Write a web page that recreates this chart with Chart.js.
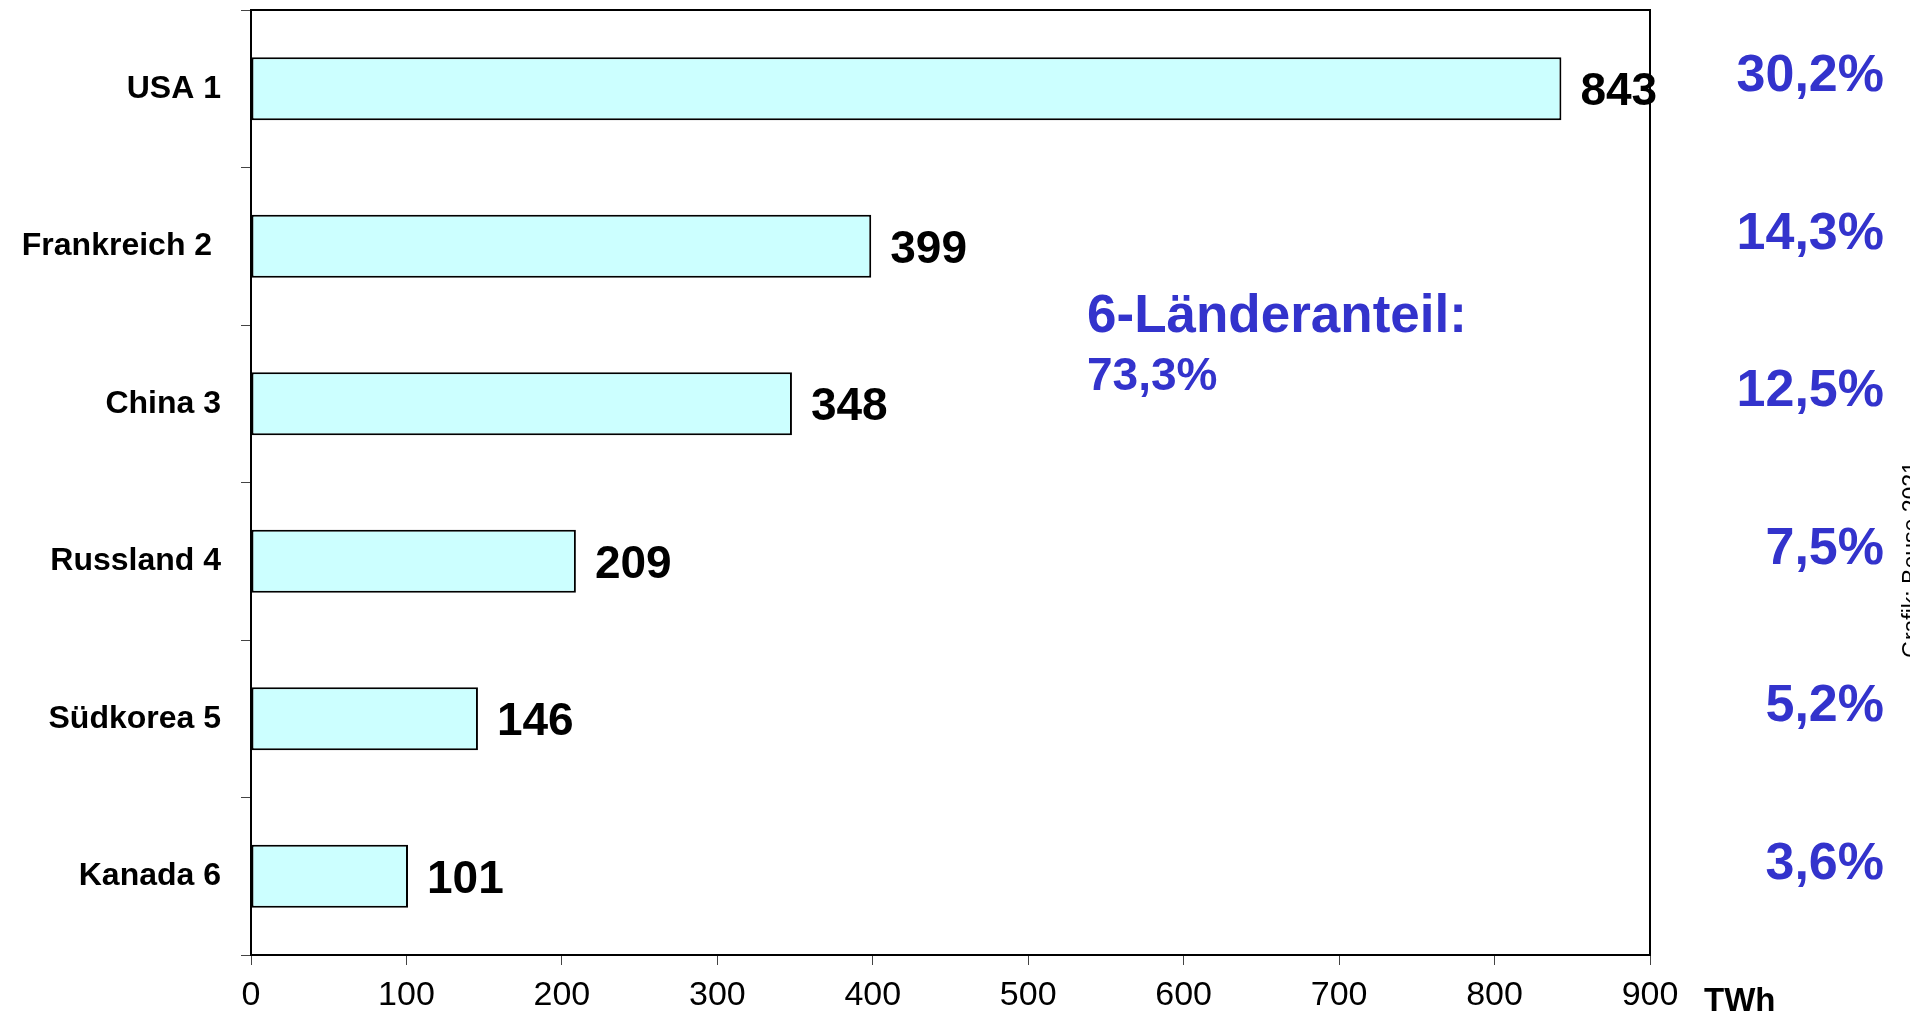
<!DOCTYPE html>
<html lang="de">
<head>
<meta charset="utf-8">
<title>Kernenergie-Stromerzeugung – 6 Länder</title>
<script src="https://cdn.jsdelivr.net/npm/chart.js@4"></script>
<style>
  html, body { margin: 0; padding: 0; background: #fff; }
  #wrap { width: 1910px; height: 1017px; position: relative; }
</style>
</head>
<body>
<div id="wrap"><canvas id="chart"></canvas></div>
<script>
// Länder (Rang) und erzeugte Strommenge in TWh
const countries = ['USA 1', 'Frankreich 2 ', 'China 3', 'Russland 4', 'Südkorea 5', 'Kanada 6'];
const twh = [843, 399, 348, 209, 146, 101];
// Anteil an der weltweiten Erzeugung
const shares = ['30,2%', '14,3%', '12,5%', '7,5%', '5,2%', '3,6%'];
const totalShareTitle = '6-Länderanteil:';
const totalShare = '73,3%';
// Achsenbereich
const xMin = 0, xMax = 900, xStep = 100;
const unitLabel = 'TWh';
const credit = 'Grafik: Bouse 2021';

const FONT = '"Liberation Sans", Arial, Helvetica, sans-serif';
const BLUE = '#3333CC';

const overlay = {
  id: 'overlay',
  afterDatasetsDraw(chart) {
    const { ctx, chartArea: a } = chart;
    const meta = chart.getDatasetMeta(0);
    const yScale = chart.scales.y;
    ctx.save();

    // Rahmen oben und rechts
    ctx.strokeStyle = '#000';
    ctx.lineWidth = 2;
    ctx.beginPath();
    ctx.moveTo(a.left, a.top);
    ctx.lineTo(a.right, a.top);
    ctx.lineTo(a.right, a.bottom);
    ctx.stroke();

    // Werte rechts neben den Balken
    ctx.fillStyle = '#000';
    ctx.font = 'bold 46px ' + FONT;
    ctx.textAlign = 'left';
    ctx.textBaseline = 'middle';
    meta.data.forEach((bar, i) => {
      ctx.fillText(String(twh[i]), bar.x + 19, bar.y + 4);
    });

    // Anteile am rechten Rand
    ctx.fillStyle = BLUE;
    ctx.font = 'bold 52px ' + FONT;
    ctx.textAlign = 'right';
    shares.forEach((s, i) => {
      ctx.fillText(s, 1884, yScale.getPixelForValue(i) - 12);
    });

    // Gesamtanteil
    ctx.textAlign = 'left';
    ctx.textBaseline = 'alphabetic';
    ctx.font = 'bold 53px ' + FONT;
    ctx.fillText(totalShareTitle, 1087, 332);
    ctx.font = 'bold 46px ' + FONT;
    ctx.fillText(totalShare, 1087, 390);

    // Einheit
    ctx.fillStyle = '#000';
    ctx.font = 'bold 33px ' + FONT;
    ctx.fillText(unitLabel, 1704, 1011);

    // Quelle, senkrecht
    ctx.translate(1919, 658);
    ctx.rotate(-Math.PI / 2);
    ctx.font = '23px ' + FONT;
    ctx.textAlign = 'left';
    ctx.textBaseline = 'alphabetic';
    ctx.fillText(credit, 0, 0);

    ctx.restore();
  }
};

new Chart(document.getElementById('chart'), {
  type: 'bar',
  data: {
    labels: countries,
    datasets: [{
      data: twh,
      backgroundColor: '#CCFFFF',
      borderColor: '#000',
      borderWidth: 2,
      borderSkipped: false,
      categoryPercentage: 1,
      barPercentage: 0.4
    }]
  },
  options: {
    indexAxis: 'y',
    responsive: true,
    maintainAspectRatio: false,
    animation: false,
    layout: { padding: { top: 10, right: 260, bottom: 0, left: 0 } },
    plugins: { legend: { display: false }, tooltip: { enabled: false } },
    scales: {
      x: {
        min: xMin,
        max: xMax,
        ticks: {
          stepSize: xStep,
          color: '#000',
          font: { family: FONT, size: 34 },
          padding: 10
        },
        grid: { drawOnChartArea: false, tickLength: 10, color: '#444', lineWidth: 1 },
        border: { display: true, color: '#000', width: 2 },
        afterFit(scale) { scale.height = 62; }
      },
      y: {
        ticks: {
          color: '#000',
          font: { family: FONT, size: 32, weight: 'bold' },
          padding: 20
        },
        grid: { drawOnChartArea: false, offset: true, tickLength: 10, color: '#444', lineWidth: 1 },
        border: { display: true, color: '#000', width: 2 },
        afterFit(scale) {
          scale.width = 251;
          scale.paddingTop = 0;
          scale.paddingBottom = 0;
        }
      }
    }
  },
  plugins: [overlay]
});
</script>
</body>
</html>
